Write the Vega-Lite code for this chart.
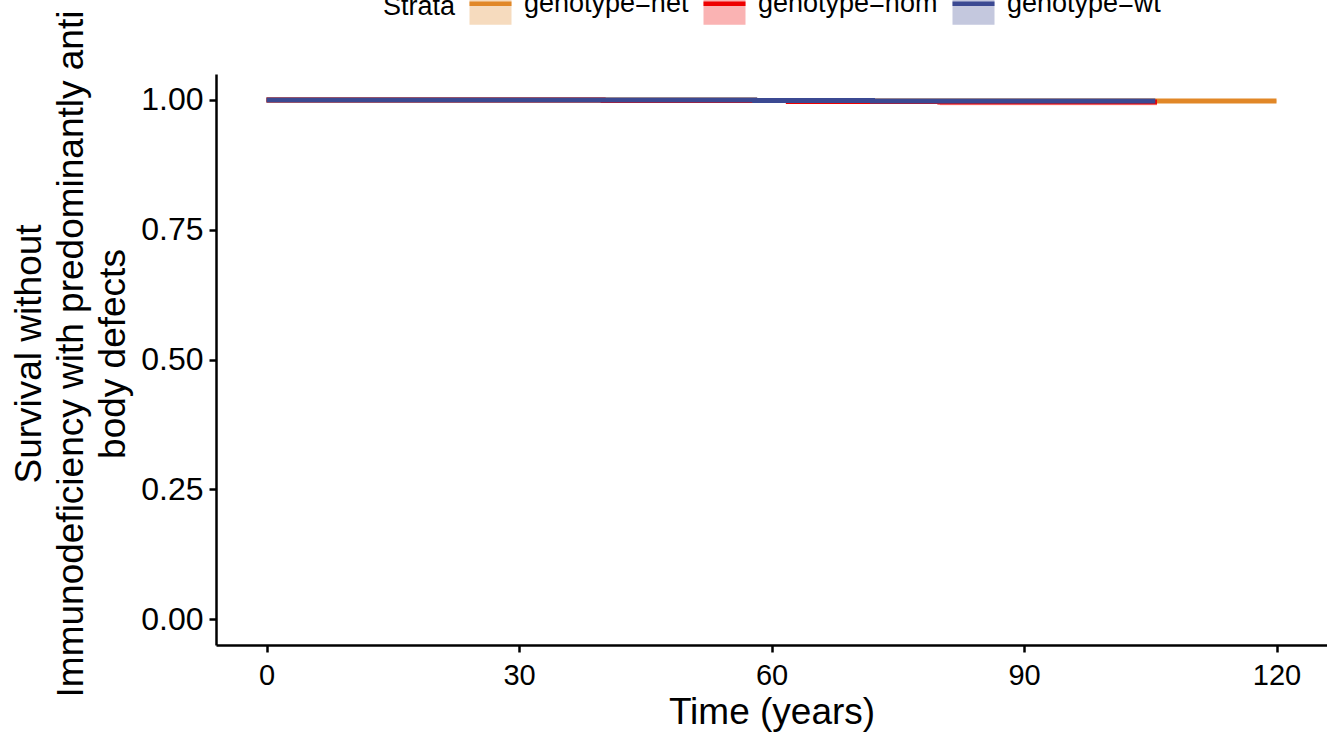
{
  "$schema": "https://vega.github.io/schema/vega-lite/v6.json",
  "width": 1111,
  "height": 571,
  "autosize": {"type": "none"},
  "padding": {"left": 216, "top": 74, "right": 0, "bottom": 87},
  "background": "white",
  "config": {
    "view": {"stroke": null},
    "font": "Liberation Sans",
    "axis": {
      "grid": false,
      "domainColor": "black",
      "domainWidth": 2.5,
      "tickColor": "black",
      "tickWidth": 2.5,
      "tickSize": 7,
      "labelFont": "Liberation Sans",
      "labelFontSize": 29,
      "labelColor": "black",
      "titleFont": "Liberation Sans",
      "titleFontSize": 37,
      "titleFontWeight": "normal",
      "titleColor": "black"
    },
    "legend": {
      "titleFont": "Liberation Sans",
      "titleFontSize": 27,
      "titleFontWeight": "normal",
      "titleColor": "black",
      "labelFont": "Liberation Sans",
      "labelFontSize": 27,
      "labelColor": "black",
      "labelLimit": 400,
      "padding": 0,
      "titlePadding": 11,
      "labelOffset": 10,
      "columnPadding": 5,
      "rowPadding": 0
    }
  },
  "data": {
    "values": [
      {"strata": "genotype=het", "time": 0, "surv": 1.0, "lower": 0.998, "upper": 1.0},
      {"strata": "genotype=het", "time": 58, "surv": 0.999, "lower": 0.996, "upper": 1.0},
      {"strata": "genotype=het", "time": 72, "surv": 0.998, "lower": 0.995, "upper": 1.0},
      {"strata": "genotype=het", "time": 120, "surv": 0.998, "lower": 0.995, "upper": 1.0},
      {"strata": "genotype=hom", "time": 0, "surv": 1.0, "lower": 0.998, "upper": 1.0},
      {"strata": "genotype=hom", "time": 40, "surv": 0.999, "lower": 0.996, "upper": 1.0},
      {"strata": "genotype=hom", "time": 62, "surv": 0.997, "lower": 0.993, "upper": 1.0},
      {"strata": "genotype=hom", "time": 80, "surv": 0.996, "lower": 0.99, "upper": 1.0},
      {"strata": "genotype=hom", "time": 105.8, "surv": 0.996, "lower": 0.99, "upper": 1.0},
      {"strata": "genotype=wt", "time": 0, "surv": 1.0, "lower": 0.999, "upper": 1.0},
      {"strata": "genotype=wt", "time": 58, "surv": 0.999, "lower": 0.998, "upper": 1.0},
      {"strata": "genotype=wt", "time": 72, "surv": 0.998, "lower": 0.996, "upper": 1.0},
      {"strata": "genotype=wt", "time": 105.6, "surv": 0.998, "lower": 0.996, "upper": 1.0}
    ]
  },
  "layer": [
    {
      "mark": {"type": "area", "interpolate": "step-after", "opacity": 1},
      "encoding": {
        "x": {
          "field": "time", "type": "quantitative",
          "scale": {"domain": [-6, 126], "nice": false, "zero": false},
          "axis": {"title": "Time (years)", "values": [0, 30, 60, 90, 120], "labelPadding": 9, "titleBaseline": "alphabetic", "titleY": 78}
        },
        "y": {
          "field": "lower", "type": "quantitative",
          "scale": {"domain": [-0.05, 1.05], "nice": false, "zero": false},
          "axis": {
            "title": ["Survival without", "Immunodeficiency with predominantly anti", "body defects"],
            "values": [0, 0.25, 0.5, 0.75, 1], "format": ".2f", "labelPadding": 6, "labelFontSize": 32,
            "titleAngle": -90, "titleAlign": "center", "titleBaseline": "alphabetic",
            "titleX": -176, "titleY": 279.5, "titleLineHeight": 42
          }
        },
        "y2": {"field": "upper"},
        "fill": {
          "field": "strata", "type": "nominal",
          "scale": {"range": ["#F6DBBE", "#FAB3B3", "#C4C8DE"]},
          "legend": {
            "title": "Strata", "orient": "none", "legendX": 167, "legendY": -94,
            "direction": "horizontal", "titleOrient": "left", "titleAnchor": "middle", "titleBaseline": "middle",
            "symbolType": "M-1,0H1V1H-1V-1H1V0Z", "symbolSize": 1764, "symbolStrokeWidth": 4.5,
            "symbolDash": [42, 500], "symbolOpacity": 1
          }
        }
      }
    },
    {
      "mark": {"type": "line", "interpolate": "step-after", "strokeWidth": 5},
      "encoding": {
        "x": {"field": "time", "type": "quantitative", "axis": {"title": "Time (years)", "values": [0, 30, 60, 90, 120], "labelPadding": 9, "titleBaseline": "alphabetic", "titleY": 78}},
        "y": {
          "field": "surv", "type": "quantitative",
          "axis": {
            "title": ["Survival without", "Immunodeficiency with predominantly anti", "body defects"],
            "values": [0, 0.25, 0.5, 0.75, 1], "format": ".2f", "labelPadding": 6, "labelFontSize": 32,
            "titleAngle": -90, "titleAlign": "center", "titleBaseline": "alphabetic",
            "titleX": -176, "titleY": 279.5, "titleLineHeight": 42
          }
        },
        "stroke": {
          "field": "strata", "type": "nominal",
          "scale": {"range": ["#E18727", "#EE0000", "#3B4992"]},
          "legend": {
            "title": "Strata", "orient": "none", "legendX": 167, "legendY": -94,
            "direction": "horizontal", "titleOrient": "left", "titleAnchor": "middle", "titleBaseline": "middle",
            "symbolType": "M-1,0H1V1H-1V-1H1V0Z", "symbolSize": 1764, "symbolStrokeWidth": 4.5,
            "symbolDash": [42, 500], "symbolOpacity": 1
          }
        }
      }
    }
  ]
}
